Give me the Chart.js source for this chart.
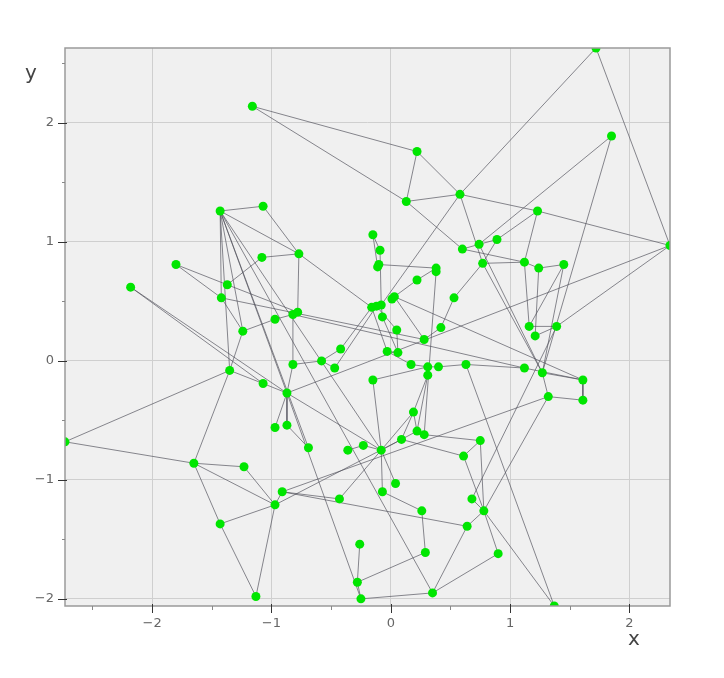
<!DOCTYPE html>
<html>
<head>
<meta charset="utf-8">
<script src="https://cdn.jsdelivr.net/npm/chart.js@4.4.1/dist/chart.umd.min.js"></script>
<style>
html, body { margin: 0; padding: 0; background: #fff; }
</style>
</head>
<body>
<canvas id="graph" width="724" height="678"></canvas>
<script>
// node positions
var xs = [-1.16, 0.22, 0.13, 0.58, 1.72, 1.85, 2.34, 1.23, -1.43, -1.07,
          -1.08, -0.77, -1.80, -2.18, -1.37, -1.42, -1.24, -1.35, -1.07, -0.87,
          -0.97, -0.82, -0.78, -0.82, -0.58, -0.47, -0.42, -0.15, -0.09, -0.11,
          -0.10, 0.38, 0.38, 0.22, 0.53, 0.01, 0.03, -0.16, -0.12, -0.08,
          -0.07, 0.42, 0.05, 0.28, -0.03, 0.06, 0.17, 0.31, 0.40, 0.63,
          0.31, -0.15, 0.19, 0.22, 0.28, 0.60, 0.74, 0.89, 0.77, 1.12,
          1.24, 1.45, 1.16, 1.21, 1.39, 1.12, 1.27, 1.61, 1.61, 1.32,
          -2.73, -1.65, -1.23, -1.43, -1.13, -0.97, -0.87, -0.69, -0.36, -0.23,
          -0.08, 0.09, 0.75, 0.61, 0.04, -0.07, -0.91, -0.97, -0.43, 0.26,
          0.64, 0.68, -0.26, 0.29, -0.28, -0.25, 0.35, 0.78, 0.90, 1.37];
var ys = [2.14, 1.76, 1.34, 1.40, 2.63, 1.89, 0.97, 1.26, 1.26, 1.30,
          0.87, 0.90, 0.81, 0.62, 0.64, 0.53, 0.25, -0.08, -0.19, -0.27,
          0.35, 0.39, 0.41, -0.03, 0.00, -0.06, 0.10, 1.06, 0.93, 0.79,
          0.81, 0.78, 0.75, 0.68, 0.53, 0.52, 0.54, 0.45, 0.46, 0.47,
          0.37, 0.28, 0.26, 0.18, 0.08, 0.07, -0.03, -0.05, -0.05, -0.03,
          -0.12, -0.16, -0.43, -0.59, -0.62, 0.94, 0.98, 1.02, 0.82, 0.83,
          0.78, 0.81, 0.29, 0.21, 0.29, -0.06, -0.10, -0.16, -0.33, -0.30,
          -0.68, -0.86, -0.89, -1.37, -1.98, -0.56, -0.54, -0.73, -0.75, -0.71,
          -0.75, -0.66, -0.67, -0.80, -1.03, -1.10, -1.10, -1.21, -1.16, -1.26,
          -1.39, -1.16, -1.54, -1.61, -1.86, -2.00, -1.95, -1.26, -1.62, -2.06];

// edges, as index pairs into xs / ys
var links = [
  [0,1],[0,2],[1,2],[1,3],[2,3],[2,55],[3,4],[3,7],[7,6],[4,6],[3,58],[3,39],[5,56],[5,66],[7,57],[7,59],
  [8,9],[8,11],[8,15],[8,17],[8,19],[8,16],[8,80],[8,77],[8,96],[9,11],[10,11],[10,14],[12,14],[12,15],
  [13,18],[13,19],[14,22],[15,16],[15,43],[16,17],[16,20],[17,70],[17,18],[17,71],[11,22],[11,37],
  [20,21],[21,65],[23,19],[23,24],[23,21],[24,25],[24,26],[26,37],[25,38],
  [19,6],[19,76],[19,75],[19,80],[19,95],[18,19],
  [70,71],[71,72],[71,73],[71,87],[72,87],[73,87],[73,74],[74,87],
  [76,77],[78,79],[79,80],[80,81],[81,53],[53,54],[80,85],[80,84],[81,83],[81,52],[54,82],[82,83],
  [86,87],[86,90],[86,88],[86,69],[87,81],[88,80],[92,94],[94,95],[95,96],[94,93],[93,89],[96,90],
  [89,85],[98,97],[98,96],[97,82],[97,83],[97,91],[97,90],[97,99],[99,49],[64,91],[69,97],
  [27,28],[27,29],[28,39],[30,31],[31,32],[32,54],[31,33],[33,36],[34,41],[34,58],[36,43],[36,67],
  [37,38],[38,39],[39,40],[40,45],[37,44],[42,45],[42,38],[41,43],[44,45],[44,46],[46,47],
  [47,48],[47,50],[49,48],[50,53],[52,53],[52,50],[52,80],[51,47],[51,80],
  [55,56],[55,59],[56,57],[56,66],[58,66],[57,58],[58,59],[59,60],[60,61],[59,62],[60,63],
  [61,62],[61,66],[6,64],[64,63],[64,62],[65,67],[66,67],[67,68],[69,68],[69,66],[49,65]
];

var xMin = -2.73, xMax = 2.34;
var yMin = -2.06, yMax = 2.63;
var majorTicks = [-2, -1, 0, 1, 2];

var nodes = xs.map(function (x, i) { return { x: x, y: ys[i] }; });
var segs = [];
links.forEach(function (l) {
  segs.push(nodes[l[0]], nodes[l[1]], { x: nodes[l[1]].x, y: null });
});

function fmt(v) {
  return v < 0 ? '\u2212' + Math.abs(v) : String(v);
}

var frame = {
  id: 'frame',
  beforeDraw: function (chart) {
    var a = chart.chartArea, c = chart.ctx;
    c.save();
    c.fillStyle = '#f0f0f0';
    c.fillRect(a.left, a.top, a.right - a.left, a.bottom - a.top);
    c.restore();
  },
  afterDatasetsDraw: function (chart) {
    var a = chart.chartArea, c = chart.ctx;
    var sx = chart.scales.x, sy = chart.scales.y;
    c.save();
    c.strokeStyle = '#9a9a9a';
    c.lineWidth = 1.5;
    c.strokeRect(a.left, a.top, a.right - a.left, a.bottom - a.top);
    c.lineWidth = 1;
    for (var v = -2.5; v <= 2.5; v += 0.5) {
      var major = Number.isInteger(v);
      c.strokeStyle = major ? '#333' : '#888';
      if (v >= xMin && v <= xMax) {
        var px = Math.round(sx.getPixelForValue(v)) + 0.5;
        c.beginPath();
        c.moveTo(px, a.bottom - (major ? 2 : 0));
        c.lineTo(px, a.bottom + (major ? 7 : 4));
        c.stroke();
      }
      if (v >= yMin && v <= yMax) {
        var py = Math.round(sy.getPixelForValue(v)) + 0.5;
        c.beginPath();
        c.moveTo(a.left - (major ? 7 : 3), py);
        c.lineTo(a.left + (major ? 2 : 0), py);
        c.stroke();
      }
    }
    c.fillStyle = '#444';
    c.font = '20px "DejaVu Sans"';
    c.textAlign = 'center';
    c.textBaseline = 'middle';
    c.fillText('y', 31, 74);
    c.fillText('x', 634, 640);
    c.restore();
  }
};

new Chart(document.getElementById('graph'), {
  type: 'scatter',
  data: {
    datasets: [{
      data: nodes,
      backgroundColor: '#00e600',
      borderWidth: 0,
      pointRadius: 4.5,
      pointHoverRadius: 4.5,
      order: 0
    }, {
      data: segs,
      showLine: true,
      spanGaps: false,
      borderColor: 'rgba(80,80,90,0.85)',
      borderWidth: 0.8,
      pointRadius: 0,
      order: 1
    }]
  },
  options: {
    responsive: false,
    animation: false,
    devicePixelRatio: 1,
    layout: { padding: { top: 48, right: 54, left: 0, bottom: 0 } },
    plugins: { legend: { display: false }, tooltip: { enabled: false } },
    scales: {
      x: {
        type: 'linear', min: xMin, max: xMax,
        afterFit: function (s) { s.height = 72; },
        afterBuildTicks: function (s) { s.ticks = majorTicks.map(function (v) { return { value: v }; }); },
        border: { display: false },
        grid: { color: '#cfcfcf', drawTicks: false },
        ticks: { padding: 10, color: '#666', font: { family: 'DejaVu Sans', size: 13 }, callback: fmt }
      },
      y: {
        type: 'linear', min: yMin, max: yMax,
        afterFit: function (s) { s.width = 65; },
        afterBuildTicks: function (s) { s.ticks = majorTicks.map(function (v) { return { value: v }; }); },
        border: { display: false },
        grid: { color: '#cfcfcf', drawTicks: false },
        ticks: { padding: 11, color: '#666', font: { family: 'DejaVu Sans', size: 13 }, callback: fmt }
      }
    }
  },
  plugins: [frame]
});
</script>
</body>
</html>
